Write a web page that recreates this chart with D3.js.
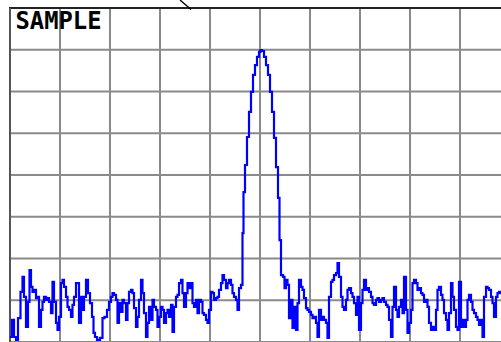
<!DOCTYPE html>
<html>
<head>
<meta charset="utf-8">
<script src="https://cdn.jsdelivr.net/npm/d3@7"></script>
<style>
html,body{margin:0;padding:0;background:#fff;overflow:hidden;}
svg{display:block;}
</style>
</head>
<body>
<svg id="chart" width="501" height="342"></svg>
<script>
// Sweep point index (0..500 across 10 divisions) and level (dBm, ref 0 dBm, 10 dB/div)
const pointIndex = [0,1,3,5,7,9,12,13,15,17,19,20,22,23,25,27,28,30,32,33,35,37,38,40,42,43,45,47,48,50,52,53,55,57,58,60,62,63,65,67,68,70,72,73,75,77,79,81,83,84,86,88,92,93,96,98,100,102,103,105,107,108,110,112,113,115,117,118,120,122,123,125,127,128,130,132,133,135,137,138,140,142,143,145,147,148,150,152,153,155,157,158,160,162,163,165,167,168,170,172,173,175,177,178,180,182,183,185,187,188,190,192,193,195,197,198,200,202,203,205,207,208,210,212,213,215,217,218,220,222,223,225,227,228,230,232,
233,234,236,238,240,242,244,246,248,250,251,253,255,257,259,261,263,265,267,269,270,272,
274,275,277,278,280,282,283,285,287,288,290,292,293,295,297,298,300,302,303,305,307,308,310,312,313,315,317,318,320,322,323,325,327,328,330,332,333,335,337,338,340,342,343,345,347,348,350,352,353,355,357,358,360,362,363,365,367,368,370,372,373,375,377,378,380,382,383,385,387,388,390,392,393,395,397,398,400,402,403,405,407,408,410,412,413,415,417,418,420,422,423,425,427,428,430,432,433,435,437,438,440,442,443,445,447,448,450,452,453,455,457,458,460,462,463,465,467,468,470,472,473,475,477,478,480,482,483,485,487,488,490,491];
const levelDbm = [-78.8,-78.8,-74.7,-78.8,-79.5,-74.3,-68.0,-64.4,-69.2,-76.4,-70.4,-62.8,-66.8,-68.0,-67.5,-69.5,-69.2,-76.4,-72.3,-70.4,-69.2,-69.9,-69.5,-70.4,-73.1,-65.6,-70.4,-75.4,-77.1,-74.0,-65.9,-65.1,-66.8,-69.2,-71.6,-72.3,-74.0,-71.1,-69.2,-65.9,-65.9,-75.4,-69.2,-72.3,-69.2,-65.1,-68.3,-70.7,-74.0,-77.8,-78.8,-79.5,-79.0,-74.3,-74.0,-72.3,-70.4,-69.2,-68.3,-68.7,-69.9,-75.4,-70.7,-72.8,-69.9,-70.7,-74.7,-70.7,-68.0,-67.5,-68.3,-71.9,-76.4,-74.0,-69.9,-65.1,-68.3,-73.1,-78.8,-75.4,-71.6,-74.7,-69.9,-71.6,-72.3,-76.4,-74.0,-71.6,-72.3,-75.4,-73.1,-72.3,-74.0,-71.1,-77.6,-71.6,-69.2,-68.7,-65.9,-65.1,-68.3,-71.6,-68.3,-65.9,-67.1,-65.9,-70.7,-71.6,-69.9,-73.1,-69.9,-70.4,-73.1,-73.5,-74.7,-75.4,-72.3,-68.0,-68.3,-69.9,-69.5,-69.2,-67.5,-65.9,-64.0,-65.1,-67.1,-65.9,-65.1,-66.3,-68.3,-69.2,-69.9,-72.3,-67.1,-66.3,
-53.9,-44.1,-37.6,-30.9,-24.9,-20.1,-16.0,-13.7,-11.7,-10.5,-10.1,-10.3,-11.7,-13.7,-16.0,-20.1,-24.9,-31.1,-38.1,-45.5,-55.6,-64.0,
-64.4,-67.1,-65.1,-66.3,-74.3,-69.9,-76.6,-71.6,-77.1,-70.7,-65.1,-66.8,-67.5,-69.5,-71.9,-72.3,-72.8,-73.5,-74.3,-74.0,-75.4,-78.8,-72.3,-74.7,-74.0,-74.7,-75.4,-79.0,-69.2,-65.6,-65.1,-64.0,-63.5,-61.1,-64.4,-69.2,-71.6,-72.3,-69.9,-67.5,-67.1,-68.3,-69.2,-70.7,-73.5,-69.2,-77.1,-70.7,-67.5,-65.1,-67.5,-67.1,-68.0,-69.2,-70.7,-71.1,-69.9,-69.5,-70.4,-69.9,-69.5,-70.4,-71.1,-71.6,-74.7,-78.8,-71.6,-66.8,-72.3,-74.0,-71.6,-69.9,-73.1,-64.4,-72.3,-77.8,-75.4,-72.3,-65.9,-65.1,-65.9,-67.5,-67.1,-68.3,-68.7,-70.4,-69.9,-71.6,-75.4,-77.1,-76.4,-77.1,-72.3,-67.5,-66.8,-68.7,-69.9,-73.1,-74.7,-77.1,-73.1,-65.9,-69.2,-72.3,-76.4,-77.1,-65.6,-76.4,-74.7,-76.4,-74.7,-69.9,-68.7,-70.4,-72.3,-73.1,-74.0,-74.7,-75.9,-74.7,-78.8,-69.2,-66.8,-67.1,-67.5,-69.2,-70.7,-74.0,-69.2,-68.3,-68.0,-68.3];
const xDivisionTicks = [0,50,100,150,200,250,300,350,400,450,500];
const yLevelTicks = [0,-10,-20,-30,-40,-50,-60,-70,-80];
const modeLabel = "SAMPLE";

const svg = d3.select("#chart");
const x = d3.scaleLinear().domain([0, 500]).range([10, 510]);
const y = d3.scaleLinear().domain([0, -80]).range([8, 342]);

svg.append("rect").attr("x",0).attr("y",0).attr("width",501).attr("height",342).attr("fill","#fff");

// grid
const grid = svg.append("g");
grid.selectAll("line.v").data(xDivisionTicks).enter().append("line")
  .attr("x1", d => x(d)).attr("x2", d => x(d))
  .attr("y1", y(0)).attr("y2", y(-80))
  .attr("stroke", "#8a8a8a").attr("stroke-width", 2);
grid.selectAll("line.h").data(yLevelTicks).enter().append("line")
  .attr("x1", x(0)).attr("x2", x(500))
  .attr("y1", d => y(d)).attr("y2", d => y(d))
  .attr("stroke", "#8a8a8a").attr("stroke-width", 2);
// frame: top and left borders
svg.append("line").attr("x1", x(0)-1).attr("x2", 501).attr("y1", y(0)).attr("y2", y(0))
  .attr("stroke", "#222").attr("stroke-width", 2);
svg.append("line").attr("x1", x(0)).attr("x2", x(0)).attr("y1", y(0)).attr("y2", y(-80))
  .attr("stroke", "#555").attr("stroke-width", 2);

// marker pointer line
svg.append("line").attr("x1", 180).attr("y1", 0).attr("x2", 191).attr("y2", 9.5)
  .attr("stroke", "#000").attr("stroke-width", 1.4);

// trace
svg.append("clipPath").attr("id","clip").append("rect")
  .attr("x", x(0)).attr("y", y(0)).attr("width", 500).attr("height", 334);
const data = pointIndex.map((p, i) => ({p, v: levelDbm[i]}));
const line = d3.line().x(d => x(d.p)).y(d => y(d.v)).curve(d3.curveStep);
svg.append("path").datum(data).attr("d", line)
  .attr("fill", "none").attr("stroke", "#0000ff").attr("stroke-width", 2.2)
  .attr("clip-path", "url(#clip)");

// label
svg.append("text").attr("x", 15.5).attr("y", 28.8)
  .attr("font-family", "DejaVu Sans Mono").attr("font-weight", "bold")
  .attr("font-size", 24).attr("fill", "#000")
  .attr("textLength", 86).attr("lengthAdjust", "spacingAndGlyphs")
  .text(modeLabel);
</script>
</body>
</html>
